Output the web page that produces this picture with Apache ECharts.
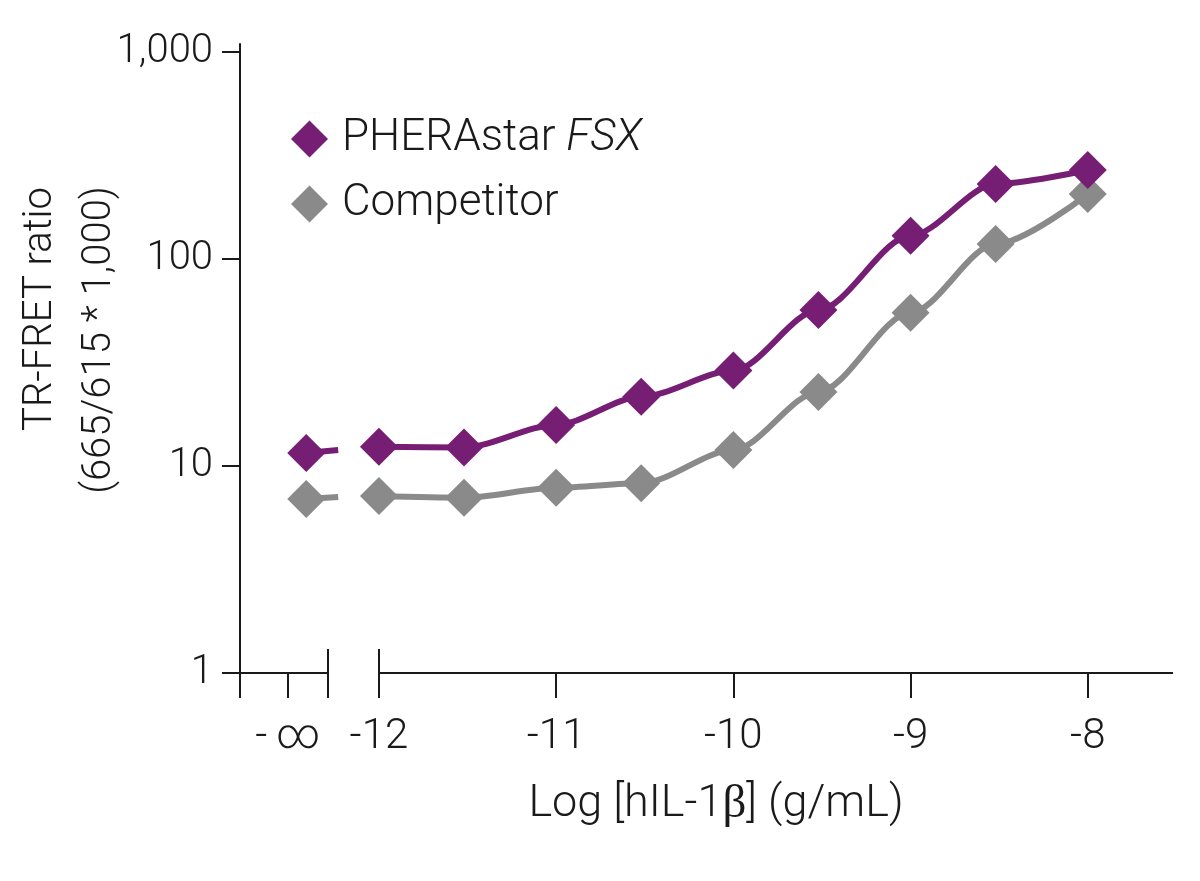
<!DOCTYPE html>
<html><head><meta charset="utf-8">
<script src="https://cdn.jsdelivr.net/npm/echarts@6/dist/echarts.min.js"></script>
<style>html,body{margin:0;padding:0;background:#fff}#c{width:1200px;height:881px}</style>
</head><body><div id="c"></div>
<script>
// ---- data ----
const logConc     = [-12, -11.52, -11, -10.52, -10, -9.52, -9, -8.52, -8];
const pherastar   = [12.4, 12.3, 15.8, 21.6, 28.9, 56.7, 129.6, 230, 269];
const competitor  = [7.16, 7.03, 7.86, 8.25, 11.95, 22.8, 55.0, 118, 206];
// the "-∞" (zero concentration) points and the short curve stubs leaving them
const negInfX = -12.41;
const stubEndX = -12.23;
const pherastarNegInf  = [11.55, 11.95];
const competitorNegInf = [6.93, 7.08];
// tick labels
const xTickValues = [-12.514, -12, -11, -10, -9, -8];
const xTickLabels = ['-\u2009\u221E', '-12', '-11', '-10', '-9', '-8'];
const yTickValues = [1, 10, 100, 1000];
const yTickLabels = ['1', '10', '100', '1,000'];
const seriesNames = ['PHERAstar FSX', 'Competitor'];

// ---- layout / style ----
const X_MIN = -12.784, X_MAX = -7.519;
const Y_MIN = 1, Y_MAX = 1093;   // axis line runs a little above the 1,000 tick
const BREAK_L = -12.288, BREAK_R = -12;
const PURPLE = '#761d74', GRAY = '#8a8a8a', INK = '#1a1a1a';
const FONT = 'Roboto, "DejaVu Sans", sans-serif';
const txt = {fontFamily: FONT, fontSize: 40, fontWeight: 300, color: INK};
const LINE_W = 6;

const chart = echarts.init(document.getElementById('c'), null, {renderer: 'canvas'});

function lineSeries(name, color, xs, ys, z) {
  return {
    name, type: 'line', z,
    data: xs.map((x, i) => [x, ys[i]]),
    smooth: 0.3, smoothMonotone: 'x',
    symbol: 'diamond', symbolSize: 38,
    lineStyle: {color, width: LINE_W},
    itemStyle: {color},
    emphasis: {disabled: true},
    silent: true
  };
}
function stubSeries(name, color, vals, z) {
  return {
    name, type: 'line', z,
    data: [[negInfX, vals[0]], {value: [stubEndX, vals[1]], symbol: 'none'}],
    symbol: 'diamond', symbolSize: 38,
    lineStyle: {color, width: LINE_W},
    itemStyle: {color},
    emphasis: {disabled: true},
    silent: true
  };
}

const axisInk = {color: INK, width: 2};

const option = {
  animation: false,
  backgroundColor: '#fff',
  grid: {left: 240, right: 27, top: 44, bottom: 208, containLabel: false, outerBoundsMode: 'none'},
  legend: {
    orient: 'vertical', left: 286, top: 112,
    itemWidth: 37, itemHeight: 37, itemGap: 21,
    icon: 'diamond', data: seriesNames,
    selectedMode: false,
    formatter: n => n === 'PHERAstar FSX' ? 'PHERAstar {i|FSX}' : n,
    textStyle: Object.assign({}, txt, {fontSize: 44, padding: [0, 0, 0, 9],
      rich: {i: Object.assign({}, txt, {fontSize: 44, fontStyle: 'italic'})}})
  },
  xAxis: [{
    type: 'value', min: X_MIN, max: X_MAX, position: 'bottom',
    axisLine: {show: false, onZero: false},
    splitLine: {show: false},
    axisTick: {show: true, length: 25, lineStyle: axisInk,
      customValues: [X_MIN, xTickValues[0], BREAK_L, BREAK_R, -11, -10, -9, -8]},
    axisLabel: Object.assign({}, txt, {fontSize: 42, margin: 43, customValues: xTickValues,
      formatter: v => { const i = xTickValues.findIndex(t => Math.abs(t - v) < 1e-6); return i >= 0 ? xTickLabels[i] : ''; }}),
    name: 'Log [hIL-1{b|\u03B2}] (g/mL)', nameLocation: 'middle', nameGap: 108,
    nameTextStyle: Object.assign({}, txt, {fontSize: 45, padding: [0, 0, 0, 19],
      rich: {b: {fontFamily: '"Liberation Serif", "DejaVu Serif", serif', fontSize: 47, color: INK}}})
  }, {
    type: 'value', min: X_MIN, max: X_MAX, position: 'bottom',
    axisLine: {show: false, onZero: false},
    splitLine: {show: false},
    axisTick: {show: true, inside: true, length: 24, lineStyle: axisInk, customValues: [BREAK_L, BREAK_R]},
    axisLabel: {show: false}
  }],
  yAxis: {
    type: 'log', logBase: 10, min: Y_MIN, max: Y_MAX,
    axisLine: {show: true, onZero: false, lineStyle: axisInk},
    axisTick: {show: true, length: 18, lineStyle: axisInk, customValues: yTickValues},
    minorTick: {show: false}, splitLine: {show: false},
    axisLabel: Object.assign({}, txt, {margin: 27, customValues: yTickValues,
      formatter: v => { const i = yTickValues.findIndex(t => Math.abs(t - v) < 1e-6 * t); return i >= 0 ? yTickLabels[i] : ''; }})
  },
  graphic: [
    {type: 'text', x: 41, y: 309, rotation: Math.PI / 2,
      style: {text: 'TR-FRET ratio', font: '300 40px ' + FONT, fill: INK, align: 'center', verticalAlign: 'middle'}},
    {type: 'text', x: 100, y: 340, rotation: Math.PI / 2,
      style: {text: '(665/615 * 1,000)', font: '300 40px ' + FONT, fill: INK, align: 'center', verticalAlign: 'middle'}}
  ],
  series: [
    Object.assign(lineSeries(seriesNames[1], GRAY, logConc, competitor, 2), {
      markLine: {
        silent: true, symbol: ['none', 'none'], label: {show: false},
        lineStyle: {color: INK, width: 2, type: 'solid'},
        emphasis: {disabled: true},
        data: [
          [{coord: [X_MIN, Y_MIN]}, {coord: [BREAK_L, Y_MIN]}],
          [{coord: [BREAK_R, Y_MIN]}, {coord: [X_MAX, Y_MIN]}]
        ]
      }
    }),
    stubSeries('Competitor -inf', GRAY, competitorNegInf, 2),
    lineSeries(seriesNames[0], PURPLE, logConc, pherastar, 3),
    stubSeries('PHERAstar FSX -inf', PURPLE, pherastarNegInf, 3)
  ]
};
chart.setOption(option);
</script></body></html>
